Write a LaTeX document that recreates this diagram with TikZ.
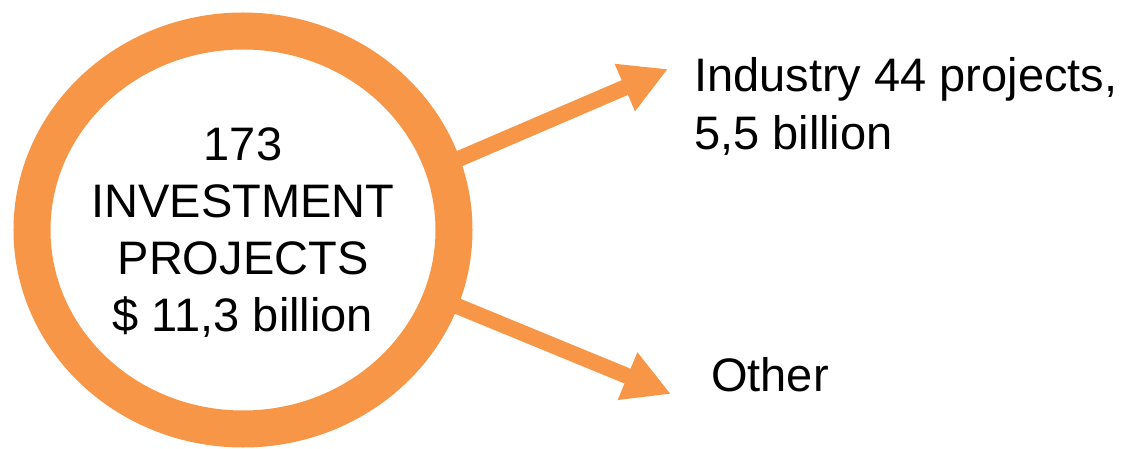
\documentclass[tikz,border=0pt]{standalone}
\usepackage{fontspec}
\setmainfont{Liberation Sans}
\usetikzlibrary{arrows.meta,shapes.geometric}
\definecolor{accent}{HTML}{F79646}
\begin{document}
\begin{tikzpicture}[x=1bp,y=-1bp,
  ringnode/.style={ellipse,draw=accent,line width=37bp,minimum width=422bp,minimum height=398bp,inner sep=0pt},
  bigtext/.style={font=\fontsize{47bp}{57bp}\selectfont,inner sep=0pt,text=black},
  fatarrow/.style={draw=accent,line width=16bp,-{Triangle[length=47bp,width=48bp]}}]
\useasboundingbox (0,0) rectangle (1130,449);
\fill[white] (0,0) rectangle (1130,449);
% arrows (start inside the ring band)
\coordinate (s1) at (440,167);
\coordinate (e1) at (668,69);
\coordinate (s2) at (440,299);
\coordinate (e2) at (671,394);
\draw[fatarrow] (s1) -- (e1);
\draw[fatarrow] (s2) -- (e2);
% ring
\node[ringnode] (hub) at (243,230) {};
\node[bigtext,align=center] (lbl) at (243,233) {173\\INVESTMENT\\PROJECTS\\\$ 11,3 billion};
% labels
\node[bigtext,align=left,anchor=base west,font=\fontsize{47bp}{58bp}\selectfont] (ind) at (694,150) {Industry 44 projects,\\5,5 billion};
\node[bigtext,anchor=base west] (oth) at (711,392) {Other};
\end{tikzpicture}
\end{document}
